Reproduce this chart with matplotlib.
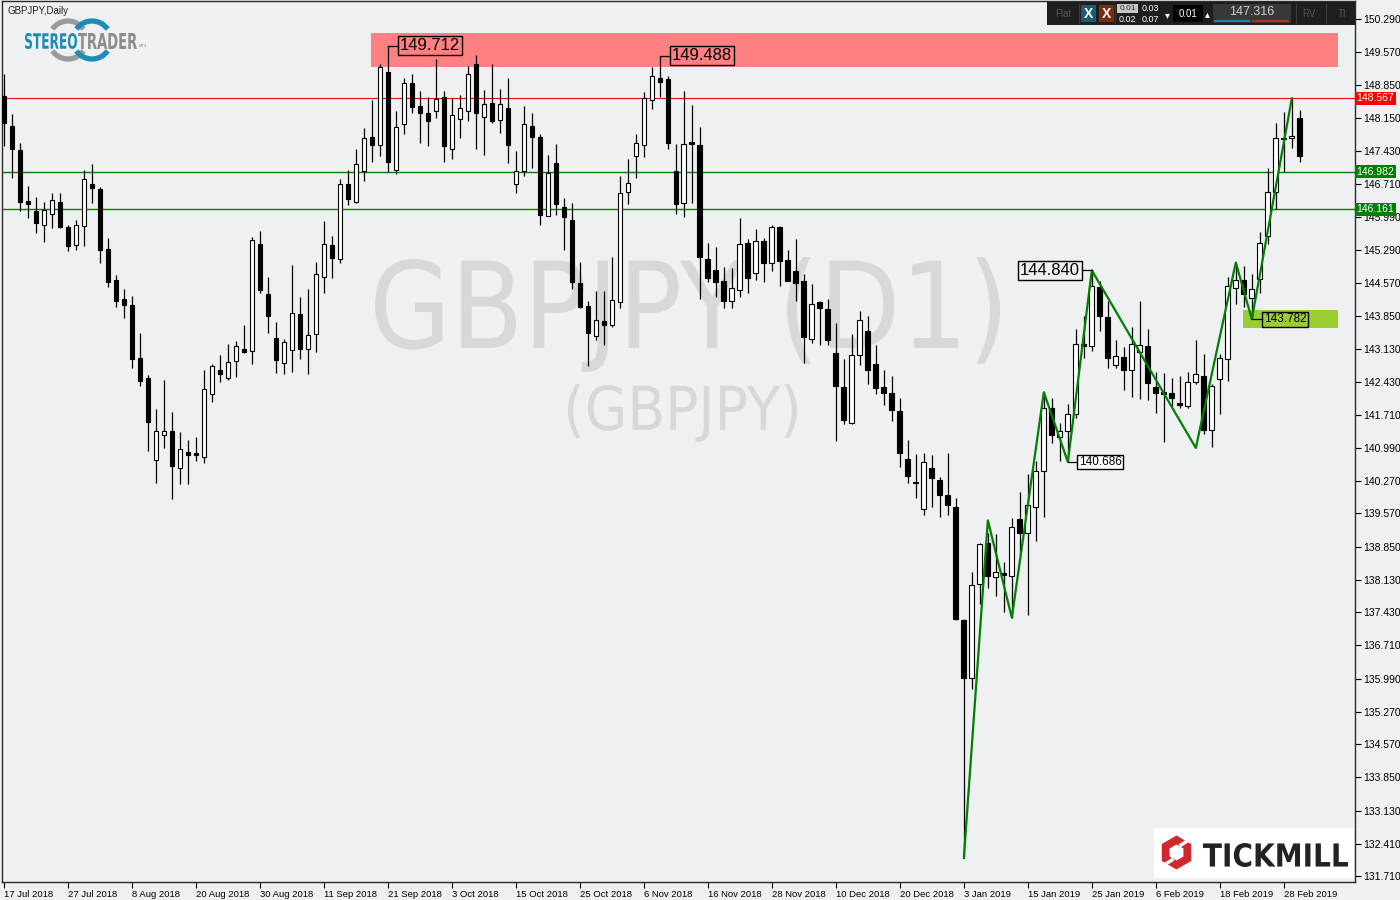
import matplotlib
matplotlib.use("Agg")
import matplotlib.pyplot as plt
import matplotlib.transforms as mtransforms
from matplotlib.patches import Rectangle, Arc, RegularPolygon, PathPatch
from matplotlib.textpath import TextPath
from matplotlib.font_manager import FontProperties
from matplotlib.transforms import Affine2D

plt.rcParams['font.family'] = ['Liberation Sans', 'DejaVu Sans']

# daily GBPJPY candles (one row per bar)
opens = [148.62, 147.97, 147.45, 146.35, 146.13, 145.82, 146.07, 146.32, 145.79, 145.39,
         145.80, 146.72, 146.61, 145.31, 144.64, 144.21, 144.10, 142.95, 142.50, 140.73,
         141.28, 141.35, 140.56, 140.91, 140.89, 140.79, 142.16, 142.67, 142.51, 142.87,
         143.14, 143.09, 145.41, 144.33, 143.38, 142.84, 143.12, 143.90, 143.14, 143.46,
         144.69, 145.39, 145.08, 146.71, 146.33, 147.00, 147.73, 147.56, 149.14, 147.01,
         148.01, 148.90, 148.41, 148.26, 148.30, 148.59, 147.47, 148.12, 148.30, 149.31,
         148.17, 148.46, 148.10, 148.36, 146.71, 146.99, 147.96, 147.73, 146.02, 147.17,
         146.22, 145.93, 144.57, 144.07, 143.42, 143.74, 143.66, 144.16, 146.54, 147.32,
         147.56, 148.54, 149.01, 148.98, 147.00, 146.30, 147.63, 147.56, 145.09, 144.85,
         144.62, 144.17, 144.42, 145.43, 144.78, 145.48, 144.99, 145.79, 145.07, 144.83,
         144.62, 143.35, 144.15, 144.00, 143.05, 142.32, 141.53, 143.01, 143.53, 142.81,
         142.32, 142.19, 141.80, 140.74, 140.26, 139.66, 140.56, 140.30, 139.98, 139.70,
         137.25, 136.00, 138.03, 138.94, 138.19, 138.27, 138.22, 139.44, 139.15, 139.71,
         140.50, 141.86, 141.22, 141.36, 141.72, 143.25, 143.21, 144.47, 143.82, 142.78,
         142.97, 142.68, 143.06, 143.21, 142.32, 142.20, 142.19, 141.96, 141.91, 142.42,
         142.56, 141.37, 142.49, 142.92, 144.46, 144.64, 144.24, 144.65, 145.58, 146.53,
         147.70, 147.71, 148.14]
highs = [149.09, 148.24, 147.61, 146.67, 146.44, 146.33, 146.52, 146.52, 145.83, 145.93,
         147.02, 147.15, 146.65, 145.55, 144.75, 144.44, 144.29, 143.49, 142.58, 141.84,
         142.47, 141.78, 141.33, 141.17, 141.22, 142.69, 142.80, 143.01, 143.25, 143.30,
         143.66, 145.57, 145.70, 144.70, 143.73, 143.35, 144.96, 144.26, 144.44, 145.03,
         145.92, 145.59, 146.83, 147.01, 147.47, 147.92, 148.54, 149.31, 149.712, 148.30,
         149.02, 149.09, 148.73, 148.59, 149.42, 148.73, 148.57, 148.64, 149.27, 149.51,
         148.75, 149.31, 148.77, 149.01, 147.43, 148.41, 148.26, 147.79, 147.35, 147.58,
         146.41, 146.30, 145.03, 144.18, 144.40, 144.40, 145.14, 146.89, 147.25, 147.79,
         148.71, 149.24, 149.488, 149.06, 147.58, 148.73, 148.43, 147.94, 145.43, 145.34,
         144.92, 144.89, 145.97, 145.52, 145.74, 145.55, 145.82, 145.81, 145.29, 145.52,
         144.76, 144.55, 144.18, 144.22, 143.70, 142.92, 143.45, 143.95, 143.86, 143.23,
         142.67, 142.54, 142.08, 141.16, 140.86, 140.88, 140.84, 140.36, 140.88, 139.91,
         137.28, 138.31, 138.94, 139.15, 139.12, 138.51, 139.47, 140.04, 140.42, 140.70,
         142.20, 142.08, 141.54, 141.94, 143.56, 143.86, 144.84, 144.62, 144.18, 143.32,
         143.17, 143.61, 144.18, 143.57, 142.63, 142.62, 142.51, 142.56, 142.63, 143.34,
         143.03, 142.37, 143.03, 144.69, 145.01, 144.94, 144.76, 145.68, 147.07, 148.04,
         148.28, 148.567, 148.31]
lows = [147.54, 146.85, 146.13, 145.97, 145.66, 145.45, 145.75, 145.75, 145.25, 145.28,
        145.36, 146.29, 144.99, 144.49, 144.04, 143.80, 142.72, 142.34, 140.92, 140.23,
        140.99, 139.89, 140.21, 140.21, 140.70, 140.66, 141.98, 142.42, 142.47, 142.52,
        143.04, 142.81, 144.36, 143.48, 142.62, 142.60, 142.63, 142.92, 142.60, 143.06,
        144.36, 144.68, 145.01, 146.26, 146.31, 146.77, 147.18, 147.32, 146.98, 146.94,
        147.79, 148.26, 147.60, 147.53, 148.15, 147.18, 147.25, 147.70, 148.08, 147.48,
        147.34, 148.04, 147.81, 147.16, 146.51, 146.89, 147.05, 145.82, 146.02, 146.04,
        145.28, 144.44, 144.03, 142.76, 143.34, 143.22, 143.61, 144.03, 146.28, 146.84,
        147.29, 148.33, 148.59, 147.48, 146.06, 145.99, 146.31, 144.23, 144.58, 144.27,
        144.02, 144.02, 144.26, 144.34, 144.64, 144.58, 144.83, 144.51, 144.60, 144.17,
        142.83, 143.26, 143.23, 143.23, 141.15, 141.51, 141.51, 142.78, 142.37, 142.16,
        141.93, 141.57, 140.58, 140.24, 139.90, 139.54, 139.70, 139.49, 139.54, 137.25,
        132.10, 135.77, 137.61, 137.95, 137.77, 137.44, 137.31, 138.66, 137.36, 138.98,
        139.50, 141.10, 140.70, 140.686, 141.64, 142.95, 143.10, 143.53, 142.72, 142.72,
        142.24, 142.09, 142.06, 142.02, 141.74, 141.12, 141.91, 141.86, 141.86, 142.37,
        141.30, 141.01, 141.73, 142.45, 144.11, 144.04, 143.782, 144.36, 145.41, 146.17,
        146.98, 147.50, 147.18]
closes = [148.04, 147.47, 146.33, 146.27, 145.86, 146.15, 146.36, 145.79, 145.37, 145.82,
          146.82, 146.62, 145.29, 144.58, 144.17, 144.08, 142.91, 142.44, 141.55, 141.35,
          141.35, 140.60, 140.96, 140.83, 140.83, 142.27, 142.76, 142.59, 142.86, 143.21,
          143.06, 145.50, 144.42, 143.84, 142.90, 143.28, 143.92, 143.14, 143.43, 144.76,
          145.41, 145.11, 146.71, 146.39, 147.14, 147.71, 147.56, 149.25, 147.18, 147.94,
          148.90, 148.39, 148.25, 148.07, 148.56, 147.53, 148.21, 148.36, 149.09, 148.25,
          148.44, 148.07, 148.44, 147.56, 146.99, 148.01, 147.74, 146.04, 146.96, 146.27,
          145.99, 144.58, 144.04, 143.48, 143.77, 143.66, 144.20, 146.52, 146.73, 147.60,
          148.57, 149.06, 148.93, 147.60, 146.28, 147.58, 147.59, 145.12, 144.67, 144.58,
          144.17, 144.46, 145.41, 144.67, 145.48, 144.99, 145.79, 145.05, 144.62, 144.56,
          143.39, 144.11, 144.02, 143.34, 142.33, 141.59, 143.01, 143.77, 142.68, 142.29,
          142.18, 141.82, 140.88, 140.38, 140.23, 140.69, 140.34, 139.98, 139.75, 137.29,
          136.01, 138.01, 138.91, 138.22, 138.30, 138.24, 139.28, 139.15, 139.76, 140.48,
          141.86, 141.28, 141.36, 141.72, 143.24, 143.19, 144.51, 143.86, 142.94, 142.98,
          142.68, 143.25, 143.22, 142.39, 142.18, 142.16, 142.08, 141.93, 142.42, 142.60,
          141.38, 142.34, 142.94, 144.51, 144.64, 144.33, 144.44, 145.43, 146.53, 147.72,
          147.68, 147.76, 147.316]

date_labels = ["17 Jul 2018", "27 Jul 2018", "8 Aug 2018", "20 Aug 2018", "30 Aug 2018",
               "11 Sep 2018", "21 Sep 2018", "3 Oct 2018", "15 Oct 2018", "25 Oct 2018",
               "6 Nov 2018", "16 Nov 2018", "28 Nov 2018", "10 Dec 2018", "20 Dec 2018",
               "3 Jan 2019", "15 Jan 2019", "25 Jan 2019", "6 Feb 2019", "18 Feb 2019",
               "28 Feb 2019"]
label_bars = list(range(0, 161, 8))

price_ticks = [131.71, 132.41, 133.13, 133.85, 134.57, 135.27, 135.99, 136.71, 137.43,
               138.13, 138.85, 139.57, 140.27, 140.99, 141.71, 142.43, 143.13, 143.85,
               144.57, 145.29, 145.99, 146.71, 147.43, 148.15, 148.85, 149.57, 150.29]

# hand drawn objects on the chart
zigzag_bars = [120, 123, 126, 130, 133, 136, 149, 154, 156, 161]
zigzag_prices = [132.10, 139.42, 137.31, 142.20, 140.686, 144.84, 140.99, 145.01, 143.782, 148.567]
red_level = 148.567
green_levels = [146.982, 146.161]
resist_zone = (45.9, 166.75, 149.25, 149.99)   # bar from, bar to, price low, price high
support_zone = (154.9, 166.75, 143.60, 143.99)
last_price = 147.316

BG = '#eff0f2'


def fit_text(target, tform, s, x0, x1, ytop, ybot, color, weight='bold', z=1):
    # text squeezed into a pixel box (pixel space has y pointing down)
    tp = TextPath((0, 0), s, size=10, prop=FontProperties(family='DejaVu Sans', weight=weight))
    bb = tp.get_extents()
    tr = Affine2D().translate(-bb.x0, -bb.y0).scale((x1 - x0) / bb.width, -(ybot - ytop) / bb.height)
    tr = tr.translate(x0, ybot)
    target.add_patch(PathPatch(tr.transform_path(tp), facecolor=color, edgecolor='none', lw=0,
                               transform=tform, zorder=z))


fig = plt.figure(figsize=(14, 9), dpi=100, facecolor=BG)
ax = fig.add_axes([2 / 1400, 18 / 900, 1353 / 1400, 881 / 900], facecolor=BG)

# overlay in pixel units for the logos and the trading panel
ov = fig.add_axes([0, 0, 1, 1], zorder=5)
ov.set_xlim(0, 1400)
ov.set_ylim(900, 0)
ov.axis('off')

x = list(range(len(opens)))
ax.vlines(x, lows, highs, color='black', linewidth=0.9, zorder=2)
bottoms = [min(o, c) for o, c in zip(opens, closes)]
heights = [max(abs(c - o), 0.03) for o, c in zip(opens, closes)]
faces = ['white' if c >= o else 'black' for o, c in zip(opens, closes)]
ax.bar(x, heights, width=0.6, bottom=bottoms, color=faces, edgecolor='black',
       linewidth=0.8, zorder=3)

# zones and levels
ax.add_patch(Rectangle((resist_zone[0], resist_zone[2]), resist_zone[1] - resist_zone[0],
                       resist_zone[3] - resist_zone[2], facecolor='#ff8080', edgecolor='none', zorder=0.5))
ax.add_patch(Rectangle((support_zone[0], support_zone[2]), support_zone[1] - support_zone[0],
                       support_zone[3] - support_zone[2], facecolor='#9acd32', edgecolor='none', zorder=0.5))
ax.axhline(red_level, color='#ff0000', linewidth=0.8, zorder=1)
for g in green_levels:
    ax.axhline(g, color='#008000', linewidth=1.0, zorder=1)

ax.plot(zigzag_bars, zigzag_prices, color='#008000', linewidth=1.6, zorder=4)

# watermark, drawn behind the candles
fit_text(ax, ov.transData, 'GBPJPY (D1)', 375, 1000, 257, 372, '#d6d8d9', weight='normal', z=0.2)
fit_text(ax, ov.transData, '(GBPJPY)', 568, 797, 384, 442, '#d6d8d9', weight='normal', z=0.2)

# price labels with connectors
def price_label(bar, price, box_x, text, size, side, fc='none'):
    ax.plot([bar, box_x], [price, price], color='black', linewidth=0.9, zorder=5)
    ax.text(box_x + (0.25 if side == 'left' else -0.25), price, text, ha=side, va='center',
            fontsize=size, zorder=6,
            bbox=dict(boxstyle='square,pad=0.12', facecolor=fc, edgecolor='black', linewidth=1))

price_label(48, highs[48], 49.25, '149.712', 12, 'left')
price_label(82, highs[82], 83.25, '149.488', 12, 'left')
price_label(136, highs[136], 134.75, '144.840', 12, 'right')
price_label(133, lows[133], 134.1, '140.686', 8.5, 'left', fc='white')
price_label(156, lows[156], 157.25, '143.782', 8.5, 'left')

ax.set_xlim(-0.25, 168.9)
ax.set_ylim(131.58, 150.68)

ax.yaxis.tick_right()
ax.set_yticks(price_ticks)
ax.set_yticklabels([f"{t:.3f}" for t in price_ticks])
ax.tick_params(axis='y', length=4, width=0.8, pad=2, labelsize=7.5, colors='black')
ax.set_xticks(label_bars)
ax.set_xticklabels(date_labels, ha='left')
ax.tick_params(axis='x', length=4, width=0.8, pad=2, labelsize=6.8)
for sp in ax.spines.values():
    sp.set_color('#2b2b2b')
    sp.set_linewidth(1.0)

# coloured price boxes on the axis
blend = mtransforms.blended_transform_factory(ax.transAxes, ax.transData)
for val, col in [(red_level, '#ff0000')] + [(g, '#008000') for g in green_levels]:
    ax.text(1.0012, val, f"{val:.3f}", transform=blend, ha='left', va='center', fontsize=7.5,
            color='white', clip_on=False, zorder=7,
            bbox=dict(boxstyle='square,pad=0.18', facecolor=col, edgecolor='none'))

ov.text(7, 11, 'GBPJPY,Daily', fontsize=7, va='center', ha='left', color='#222222')
for cx, col in [(68, '#9a9a9a'), (92, '#1c8cb5')]:
    for t1, t2 in [(35, 145), (215, 325)]:
        ov.add_patch(Arc((cx, 40), 38, 38, theta1=t1, theta2=t2, color=col, linewidth=3.8))
fit_text(ov, ov.transData, 'STEREO', 25, 77, 33, 49, '#1c8cb5')
fit_text(ov, ov.transData, 'TRADER', 78, 137, 33, 49, '#8c8c8c')
ov.text(139, 46, 'MT4', fontsize=3, color='#8c8c8c', va='center')

# tickmill logo
ov.add_patch(Rectangle((1154, 828), 200, 50, facecolor='white', edgecolor='none'))
ov.add_patch(RegularPolygon((1176.5, 852.5), 6, radius=17, orientation=0, facecolor='#d0282e'))
ov.add_patch(RegularPolygon((1176.5, 852.5), 6, radius=8, orientation=0, facecolor='white'))
ov.plot([1181, 1192], [845, 838], color='white', linewidth=2.5)
ov.plot([1172, 1161], [860, 867], color='white', linewidth=2.5)
fit_text(ov, ov.transData, 'TICKMILL', 1203, 1348, 843, 867, '#222222')

# one-click trading panel
ov.add_patch(Rectangle((1047, 2), 308, 23, facecolor='#1e1e1e', edgecolor='none'))
ov.text(1063, 14, 'Flat', fontsize=7, color='#555555', ha='center', va='center')
ov.add_patch(Rectangle((1081, 5), 15, 17, facecolor='#1d5a73'))
ov.text(1088.5, 14, 'X', fontsize=10, color='white', ha='center', va='center', fontweight='bold')
ov.add_patch(Rectangle((1099, 5), 15, 17, facecolor='#7b2d12'))
ov.text(1106.5, 14, 'X', fontsize=10, color='white', ha='center', va='center', fontweight='bold')
ov.add_patch(Rectangle((1117, 4), 21, 9, facecolor='#c8c8c8'))
ov.text(1127.5, 8.5, '0.01', fontsize=6, color='#333333', ha='center', va='center')
ov.text(1127.5, 19, '0.02', fontsize=6.5, color='white', ha='center', va='center')
ov.text(1150.5, 8.5, '0.03', fontsize=6.5, color='white', ha='center', va='center')
ov.text(1150.5, 19, '0.07', fontsize=6.5, color='white', ha='center', va='center')
ov.text(1167, 15, '\u25be', fontsize=7, color='white', ha='center', va='center')
ov.add_patch(Rectangle((1173, 5), 30, 17, facecolor='black'))
ov.text(1188, 14, '0.01', fontsize=7, color='white', ha='center', va='center')
ov.text(1207, 14, '\u25b4', fontsize=7, color='white', ha='center', va='center')
ov.add_patch(Rectangle((1213, 4), 78, 19, facecolor='#383838'))
ov.text(1252, 12, f"{last_price:.3f}", fontsize=9, color='#d0d0d0', ha='center', va='center')
ov.plot([1215, 1249], [21, 21], color='#1f7fb0', linewidth=1.5)
ov.plot([1253, 1288], [21, 21], color='#b0301a', linewidth=1.5)
ov.text(1309, 14, 'RV', fontsize=7, color='#555555', ha='center', va='center')
ov.text(1342, 14, 'TI', fontsize=7, color='#555555', ha='center', va='center')
for sx in [1079, 1115, 1296, 1326]:
    ov.plot([sx, sx], [4, 23], color='#3c3c3c', linewidth=0.8)

fig.savefig('out.png', dpi=100, facecolor=BG)
